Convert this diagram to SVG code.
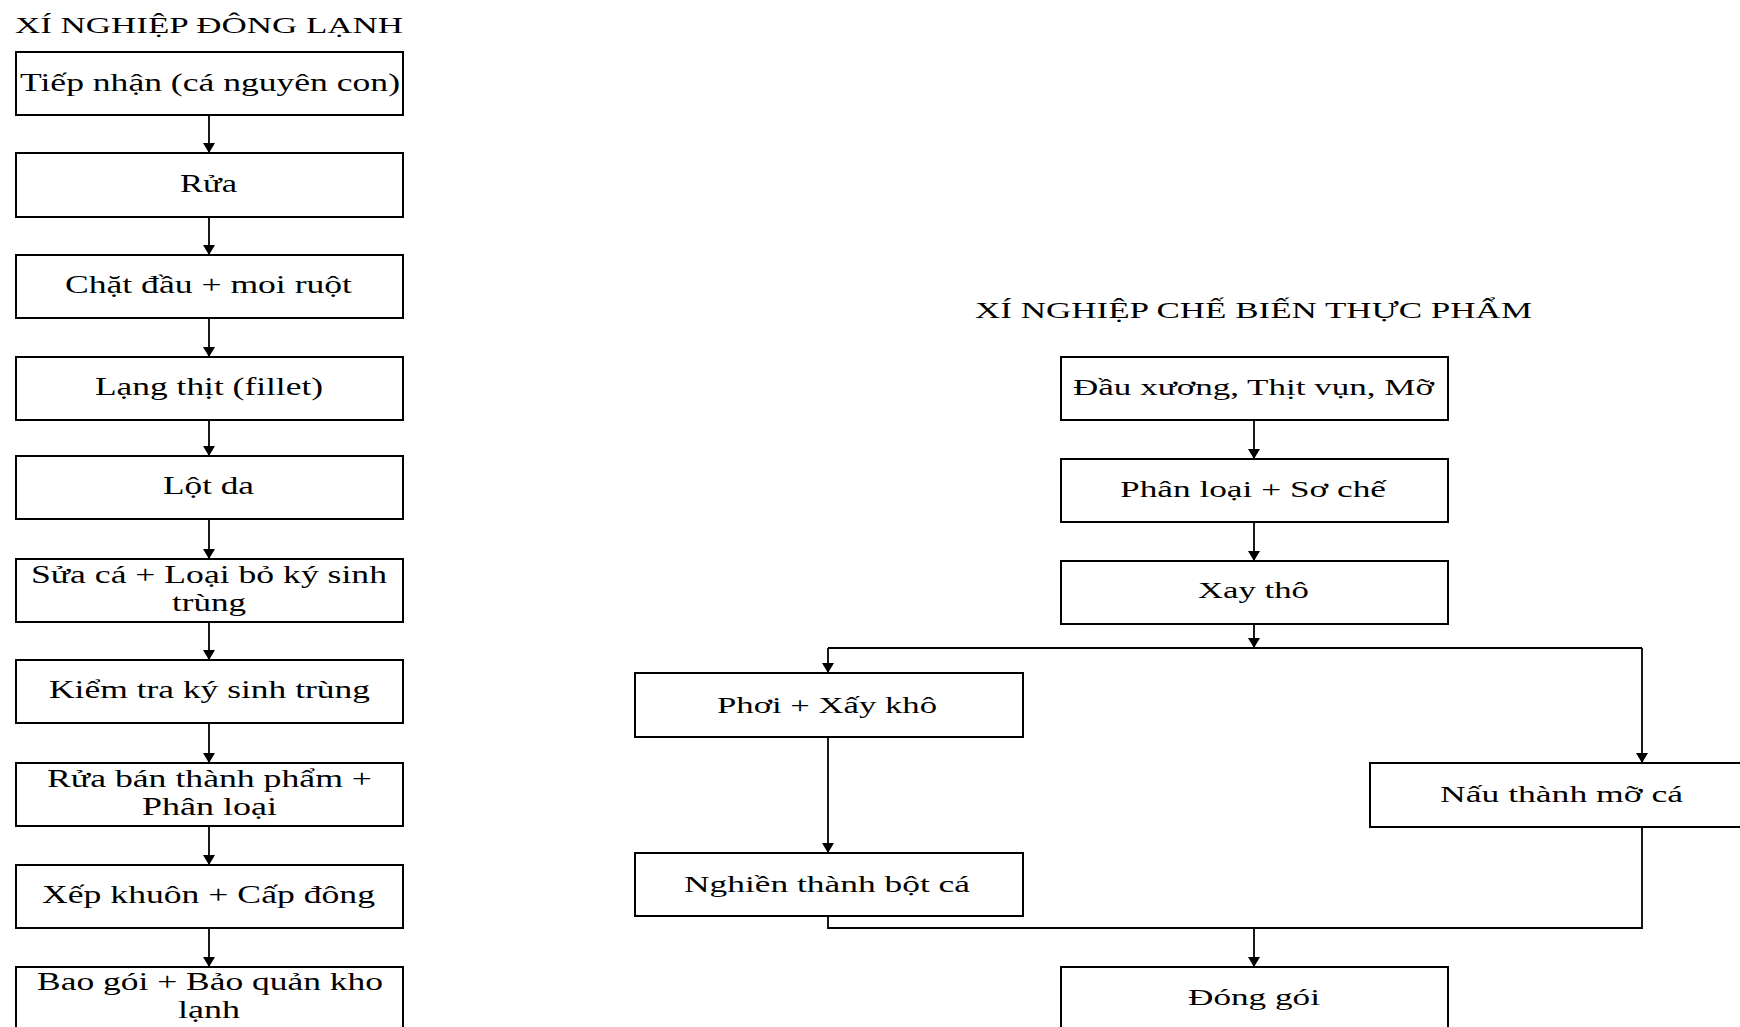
<svg xmlns="http://www.w3.org/2000/svg" width="1740" height="1027" viewBox="0 0 1740 1027">
<style>
.box{fill:#fff;stroke:#000;stroke-width:2}
.t{font-family:"Liberation Serif","Times New Roman",serif;font-size:25px;fill:#000}
.tr{font-family:"Liberation Serif","Times New Roman",serif;font-size:23.5px;fill:#000}
.title{font-family:"Liberation Serif","Times New Roman",serif;font-size:23px;fill:#000}
.c{fill:none;stroke:#000;stroke-width:1.8}
</style>
<defs>
<marker id="ah" markerUnits="userSpaceOnUse" markerWidth="12" markerHeight="12" viewBox="0 0 10 12" refX="10" refY="6" orient="auto">
<path d="M0,0 L10,6 L0,12 z" fill="#000"/>
</marker>
</defs>
<rect width="1740" height="1027" fill="#fff"/>

<text class="title" x="15" y="33" textLength="388" lengthAdjust="spacingAndGlyphs">XÍ NGHIỆP ĐÔNG LẠNH</text>
<text class="title" x="975" y="318" textLength="557" lengthAdjust="spacingAndGlyphs">XÍ NGHIỆP CHẾ BIẾN THỰC PHẨM</text>

<g id="connectors">
<line class="c" x1="209" y1="115" x2="209" y2="153" marker-end="url(#ah)"/>
<line class="c" x1="209" y1="217" x2="209" y2="255" marker-end="url(#ah)"/>
<line class="c" x1="209" y1="318" x2="209" y2="357" marker-end="url(#ah)"/>
<line class="c" x1="209" y1="420" x2="209" y2="456" marker-end="url(#ah)"/>
<line class="c" x1="209" y1="519" x2="209" y2="559" marker-end="url(#ah)"/>
<line class="c" x1="209" y1="622" x2="209" y2="660" marker-end="url(#ah)"/>
<line class="c" x1="209" y1="723" x2="209" y2="763" marker-end="url(#ah)"/>
<line class="c" x1="209" y1="826" x2="209" y2="865" marker-end="url(#ah)"/>
<line class="c" x1="209" y1="928" x2="209" y2="967" marker-end="url(#ah)"/>

<line class="c" x1="1254" y1="420" x2="1254" y2="459" marker-end="url(#ah)"/>
<line class="c" x1="1254" y1="522" x2="1254" y2="561" marker-end="url(#ah)"/>
<line class="c" x1="1254" y1="624" x2="1254" y2="648" marker-end="url(#ah)"/>
<path class="c" d="M1642,648 H828"/>
<line class="c" x1="828" y1="648" x2="828" y2="673" marker-end="url(#ah)"/>
<line class="c" x1="1642" y1="648" x2="1642" y2="763" marker-end="url(#ah)"/>
<line class="c" x1="828" y1="737" x2="828" y2="853" marker-end="url(#ah)"/>
<path class="c" d="M828,916 V928 H1642 V827"/>
<line class="c" x1="1254" y1="928" x2="1254" y2="967" marker-end="url(#ah)"/>
</g>

<g id="n1"><rect class="box" x="16" y="52" width="387" height="63"/>
<text class="t" x="20" y="91" textLength="380" lengthAdjust="spacingAndGlyphs">Tiếp nhận (cá nguyên con)</text></g>
<g id="n2"><rect class="box" x="16" y="153" width="387" height="64"/>
<text class="t" x="180" y="192" textLength="57" lengthAdjust="spacingAndGlyphs">Rửa</text></g>
<g id="n3"><rect class="box" x="16" y="255" width="387" height="63"/>
<text class="t" x="65" y="293" textLength="287" lengthAdjust="spacingAndGlyphs">Chặt đầu + moi ruột</text></g>
<g id="n4"><rect class="box" x="16" y="357" width="387" height="63"/>
<text class="t" x="95" y="395" textLength="228" lengthAdjust="spacingAndGlyphs">Lạng thịt (fillet)</text></g>
<g id="n5"><rect class="box" x="16" y="456" width="387" height="63"/>
<text class="t" x="163" y="494" textLength="91" lengthAdjust="spacingAndGlyphs">Lột da</text></g>
<g id="n6"><rect class="box" x="16" y="559" width="387" height="63"/>
<text class="t" x="31" y="583" textLength="356" lengthAdjust="spacingAndGlyphs">Sửa cá + Loại bỏ ký sinh</text>
<text class="t" x="172" y="611" textLength="74" lengthAdjust="spacingAndGlyphs">trùng</text></g>
<g id="n7"><rect class="box" x="16" y="660" width="387" height="63"/>
<text class="t" x="49" y="698" textLength="321" lengthAdjust="spacingAndGlyphs">Kiểm tra ký sinh trùng</text></g>
<g id="n8"><rect class="box" x="16" y="763" width="387" height="63"/>
<text class="t" x="47" y="787" textLength="325" lengthAdjust="spacingAndGlyphs">Rửa bán thành phẩm +</text>
<text class="t" x="142" y="815" textLength="135" lengthAdjust="spacingAndGlyphs">Phân loại</text></g>
<g id="n9"><rect class="box" x="16" y="865" width="387" height="63"/>
<text class="t" x="42" y="903" textLength="333" lengthAdjust="spacingAndGlyphs">Xếp khuôn + Cấp đông</text></g>
<g id="n10"><rect class="box" x="16" y="967" width="387" height="80"/>
<text class="t" x="37" y="990" textLength="346" lengthAdjust="spacingAndGlyphs">Bao gói + Bảo quản kho</text>
<text class="t" x="178" y="1018" textLength="62" lengthAdjust="spacingAndGlyphs">lạnh</text></g>

<g id="r1"><rect class="box" x="1061" y="357" width="387" height="63"/>
<text class="tr" x="1073" y="395" textLength="361" lengthAdjust="spacingAndGlyphs">Đầu xương, Thịt vụn, Mỡ</text></g>
<g id="r2"><rect class="box" x="1061" y="459" width="387" height="63"/>
<text class="tr" x="1120" y="497" textLength="266" lengthAdjust="spacingAndGlyphs">Phân loại + Sơ chế</text></g>
<g id="r3"><rect class="box" x="1061" y="561" width="387" height="63"/>
<text class="tr" x="1198" y="598" textLength="111" lengthAdjust="spacingAndGlyphs">Xay thô</text></g>
<g id="r4"><rect class="box" x="635" y="673" width="388" height="64"/>
<text class="tr" x="717" y="713" textLength="220" lengthAdjust="spacingAndGlyphs">Phơi + Xấy khô</text></g>
<g id="r5"><rect class="box" x="635" y="853" width="388" height="63"/>
<text class="tr" x="684" y="892" textLength="286" lengthAdjust="spacingAndGlyphs">Nghiền thành bột cá</text></g>
<g id="r6"><rect class="box" x="1370" y="763" width="388" height="64"/>
<text class="tr" x="1440" y="802" textLength="243" lengthAdjust="spacingAndGlyphs">Nấu thành mỡ cá</text></g>
<g id="r7"><rect class="box" x="1061" y="967" width="387" height="80"/>
<text class="tr" x="1188" y="1005" textLength="132" lengthAdjust="spacingAndGlyphs">Đóng gói</text></g>
</svg>
